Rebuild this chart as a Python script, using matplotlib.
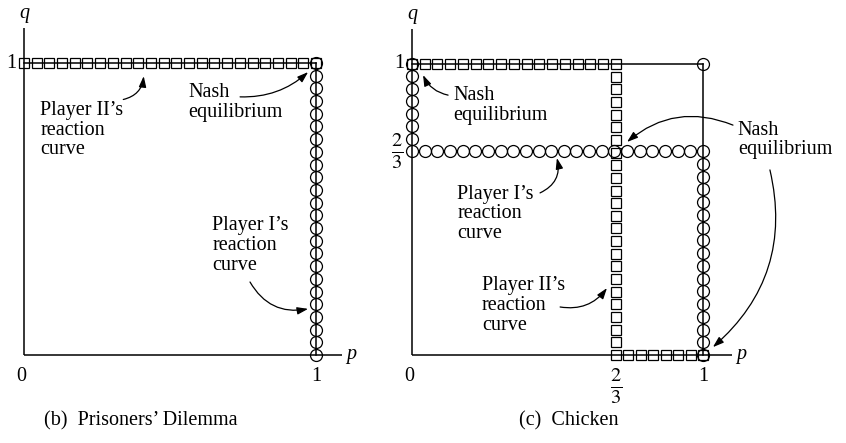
import numpy as np
import matplotlib
matplotlib.use('Agg')
import matplotlib.pyplot as plt

plt.rcParams['font.family'] = ['Liberation Serif', 'DejaVu Serif']
plt.rcParams['mathtext.fontset'] = 'stix'

# ---------------------
# data
# ---------------------
mix = 0.70        # mixed equilibrium (labelled 2/3), as drawn
n_steps = 23      # markers per unit edge

# (b) Prisoners' Dilemma
pd_p2_curve = [(0, 1), (1, 1)]                       # squares
pd_p1_curve = [(1, 0), (1, 1)]                       # circles
# (c) Chicken
ch_p2_curve = [(0, 1), (mix, 1), (mix, 0), (1, 0)]   # squares
ch_p1_curve = [(0, 1), (0, mix), (1, mix), (1, 0)]   # circles
ch_corner = [(1, 1)]

titles = ['(b)\u2002Prisoners\u2019 Dilemma', '(c)\u2002Chicken']

W, H = 846, 443
fig = plt.figure(figsize=(W / 100, H / 100), dpi=100)

FS = 14.5
ms_sq = 7.3
ms_ci = 8.6
lw = 1.1


def make_axes(x0, y0, u, xlim, ylim):
    l = x0 + xlim[0] * u
    w = (xlim[1] - xlim[0]) * u
    b = (H - y0) + ylim[0] * u
    h = (ylim[1] - ylim[0]) * u
    ax = fig.add_axes([l / W, b / H, w / W, h / H])
    ax.set_xlim(xlim)
    ax.set_ylim(ylim)
    ax.axis('off')
    return ax


def sample(path):
    pts = [path[0]]
    for (x1, y1), (x2, y2) in zip(path[:-1], path[1:]):
        n = int(round(max(abs(x2 - x1), abs(y2 - y1)) * n_steps))
        xs = np.linspace(x1, x2, n + 1)[1:]
        ys = np.linspace(y1, y2, n + 1)[1:]
        pts += list(zip(xs, ys))
    pts = np.array(pts)
    return pts[:, 0], pts[:, 1]


def frame(ax, xend):
    ax.plot([0, 0], [0, 1.12], color='k', lw=lw, solid_capstyle='butt')
    ax.plot([0, xend], [0, 0], color='k', lw=lw, solid_capstyle='butt')
    ax.plot([0, 1], [1, 1], color='k', lw=lw)
    ax.plot([1, 1], [0, 1], color='k', lw=lw)
    ax.text(0, 1.17, 'q', style='italic', fontsize=FS, ha='center', va='center')
    ax.text(xend + 0.03, 0, 'p', style='italic', fontsize=FS, ha='center', va='center')
    ax.text(-0.025, 1, '1', fontsize=FS, ha='right', va='center')
    ax.text(-0.01, -0.075, '0', fontsize=FS, ha='center', va='center')
    ax.text(1, -0.075, '1', fontsize=FS, ha='center', va='center')


def squares(ax, path):
    x, y = sample(path)
    ax.plot(x, y, 's', ms=ms_sq, mfc='none', mec='k', mew=0.9, zorder=3)


def circles(ax, path):
    x, y = sample(path)
    ax.plot(x, y, 'o', ms=ms_ci, mfc='none', mec='k', mew=0.9, zorder=3)


def arrow(ax, start, tip, rad):
    ax.annotate('', xy=tip, xytext=start,
                arrowprops=dict(arrowstyle='-|>,head_length=0.65,head_width=0.22',
                                connectionstyle='arc3,rad=%s' % rad,
                                color='k', lw=0.9, shrinkA=0, shrinkB=0))


def label(ax, x, y, s, ha='left'):
    ax.text(x, y, s, fontsize=FS, ha=ha, va='top', linespacing=1.05)


# ---------------------
# (b) Prisoners' Dilemma
# ---------------------
ax1 = make_axes(24, 355, 292, (-0.08, 1.2), (-0.3, 1.2))
frame(ax1, 1.09)
squares(ax1, pd_p2_curve)
circles(ax1, pd_p1_curve)

label(ax1, 0.055, 0.87, 'Player II\u2019s\nreaction\ncurve')
arrow(ax1, (0.34, 0.875), (0.41, 0.955), 0.35)
label(ax1, 0.562, 0.93, 'Nash\nequilibrium')
arrow(ax1, (0.74, 0.884), (0.973, 0.969), 0.2)
label(ax1, 0.644, 0.475, 'Player I\u2019s\nreaction\ncurve')
arrow(ax1, (0.774, 0.25), (0.973, 0.158), 0.35)

ax1.text(0.40, -0.225, titles[0], fontsize=FS, ha='center', va='center')

# ---------------------
# (c) Chicken
# ---------------------
ax2 = make_axes(412, 355, 291, (-0.1, 1.45), (-0.3, 1.2))
frame(ax2, 1.10)
squares(ax2, ch_p2_curve)
circles(ax2, ch_p1_curve)
ax2.plot([c[0] for c in ch_corner], [c[1] for c in ch_corner], 'o',
         ms=ms_ci, mfc='none', mec='k', mew=0.9, zorder=3)

ax2.text(-0.03, mix, r'$\frac{2}{3}$', fontsize=21, ha='right', va='center')
ax2.text(mix, -0.04, r'$\frac{2}{3}$', fontsize=21, ha='center', va='top')

label(ax2, 0.141, 0.925, 'Nash\nequilibrium')
arrow(ax2, (0.124, 0.893), (0.038, 0.962), -0.25)
label(ax2, 0.155, 0.585, 'Player I\u2019s\nreaction\ncurve')
arrow(ax2, (0.44, 0.557), (0.498, 0.677), 0.4)
label(ax2, 0.24, 0.27, 'Player II\u2019s\nreaction\ncurve')
arrow(ax2, (0.509, 0.165), (0.67, 0.23), 0.3)
label(ax2, 1.12, 0.805, 'Nash\nequilibrium')
arrow(ax2, (1.103, 0.79), (0.739, 0.732), 0.3)
arrow(ax2, (1.23, 0.636), (1.034, 0.027), -0.3)

ax2.text(0.54, -0.225, titles[1], fontsize=FS, ha='center', va='center')

fig.savefig('out.png', dpi=100)
